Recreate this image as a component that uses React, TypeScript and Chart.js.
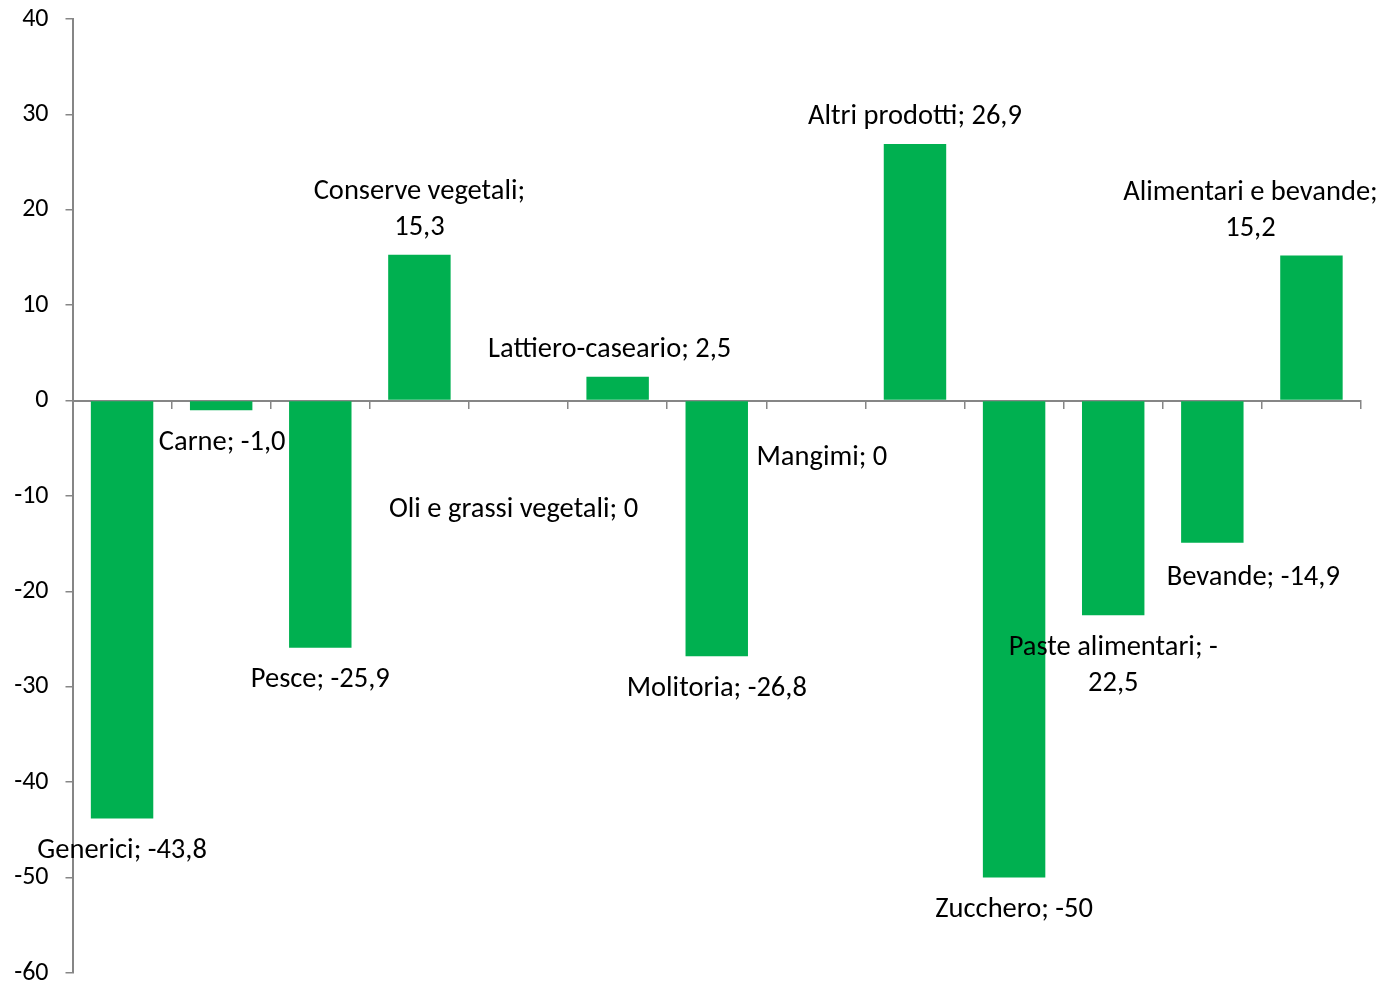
import React, { useEffect, useRef } from "react";
import { Chart, registerables } from "chart.js";

Chart.register(...registerables);

const categories = [
  "Generici",
  "Carne",
  "Pesce",
  "Conserve vegetali",
  "Oli e grassi vegetali",
  "Lattiero-caseario",
  "Molitoria",
  "Mangimi",
  "Altri prodotti",
  "Zucchero",
  "Paste alimentari",
  "Bevande",
  "Alimentari e bevande",
];
const values = [-43.8, -1.0, -25.9, 15.3, 0, 2.5, -26.8, 0, 26.9, -50, -22.5, -14.9, 15.2];
// label line layouts: texts of each line
const labelLines: string[][] = [
  ["Generici; -43,8"],
  ["Carne; -1,0"],
  ["Pesce; -25,9"],
  ["Conserve vegetali;", "15,3"],
  ["Oli e grassi vegetali; 0"],
  ["Lattiero-caseario; 2,5"],
  ["Molitoria; -26,8"],
  ["Mangimi; 0"],
  ["Altri prodotti; 26,9"],
  ["Zucchero; -50"],
  ["Paste alimentari; -", "22,5"],
  ["Bevande; -14,9"],
  ["Alimentari e bevande;", "15,2"],
];
// manual nudges of data labels (px), as placed in the original
const labelNudgeX = [0, 1, 0, 0, -5, -8, 0, 6, 0, 0, 0, 41, -61];
const labelNudgeY = [0, 0, 0, 0, 77, 0, 0, 25, 0, 0, 0, 3, 0];

const yMin = -60;
const yMax = 40;
const yStep = 10;

const GREEN = "#00B050";
const AXIS = "#868686";
const FONT = "Carlito, Lato, sans-serif";
const LABEL_SIZE = 28.5;
const TICK_SIZE = 26;

const labelPlugin = {
  id: "barLabels",
  afterDatasetsDraw(chart: any) {
    const meta = chart.getDatasetMeta(0);
    const yScale = chart.scales.y;
    const ctx = chart.ctx;
    ctx.save();
    ctx.font = `${LABEL_SIZE}px ${FONT}`;
    ctx.fillStyle = "#000";
    ctx.textAlign = "center";
    ctx.textBaseline = "middle";
    const lh = 36;
    meta.data.forEach((bar: any, i: number) => {
      const v = values[i];
      const py = yScale.getPixelForValue(v);
      const lines = labelLines[i];
      const x = bar.x + labelNudgeX[i];
      if (v > 0) {
        const lastY = py - 27;
        lines.forEach((t, k) => {
          ctx.fillText(t, x, lastY - (lines.length - 1 - k) * lh + labelNudgeY[i]);
        });
      } else {
        const firstY = py + 32.5;
        lines.forEach((t, k) => {
          ctx.fillText(t, x, firstY + k * lh + labelNudgeY[i]);
        });
      }
    });
    ctx.restore();
  },
};

export default function App() {
  const ref = useRef<HTMLCanvasElement | null>(null);
  useEffect(() => {
    if (!ref.current) return;
    const chart = new Chart(ref.current, {
      type: "bar",
      data: {
        labels: categories,
        datasets: [
          {
            data: values,
            backgroundColor: GREEN,
            borderWidth: 0,
            categoryPercentage: 1,
            barPercentage: 0.63,
          },
        ],
      },
      options: {
        animation: false,
        responsive: false,
        layout: { padding: { left: 0, top: 19, right: 28, bottom: 11 } },
        plugins: { legend: { display: false }, tooltip: { enabled: false } },
        scales: {
          x: {
            position: { y: 0 } as any,
            grid: {
              offset: true,
              drawOnChartArea: false,
              drawTicks: true,
              tickLength: 7,
              color: AXIS,
              lineWidth: 1.5,
            },
            border: { display: true, color: AXIS, width: 2 },
            ticks: { display: false },
            afterFit: (s: any) => {
              s.height = 0;
              s.paddingLeft = 0;
              s.paddingRight = 0;
              s.paddingTop = 0;
              s.paddingBottom = 0;
            },
          },
          y: {
            min: yMin,
            max: yMax,
            ticks: {
              stepSize: yStep,
              color: "#000",
              font: { family: FONT, size: TICK_SIZE },
              padding: 17,
              callback: (v: any) => String(v),
            },
            grid: {
              drawOnChartArea: false,
              drawTicks: true,
              tickLength: 7,
              color: AXIS,
              lineWidth: 1.5,
            },
            border: { display: true, color: AXIS, width: 2 },
            afterFit: (s: any) => {
              s.width = 72.5;
              s.paddingTop = 0;
              s.paddingBottom = 0;
            },
          },
        },
      },
      plugins: [labelPlugin],
    });
    return () => chart.destroy();
  }, []);
  return (
    <div style={{ position: "absolute", left: 0, top: 0, width: 1389, height: 984, background: "#fff" }}>
      <canvas ref={ref} width={1389} height={984} style={{ display: "block" }} />
    </div>
  );
}
